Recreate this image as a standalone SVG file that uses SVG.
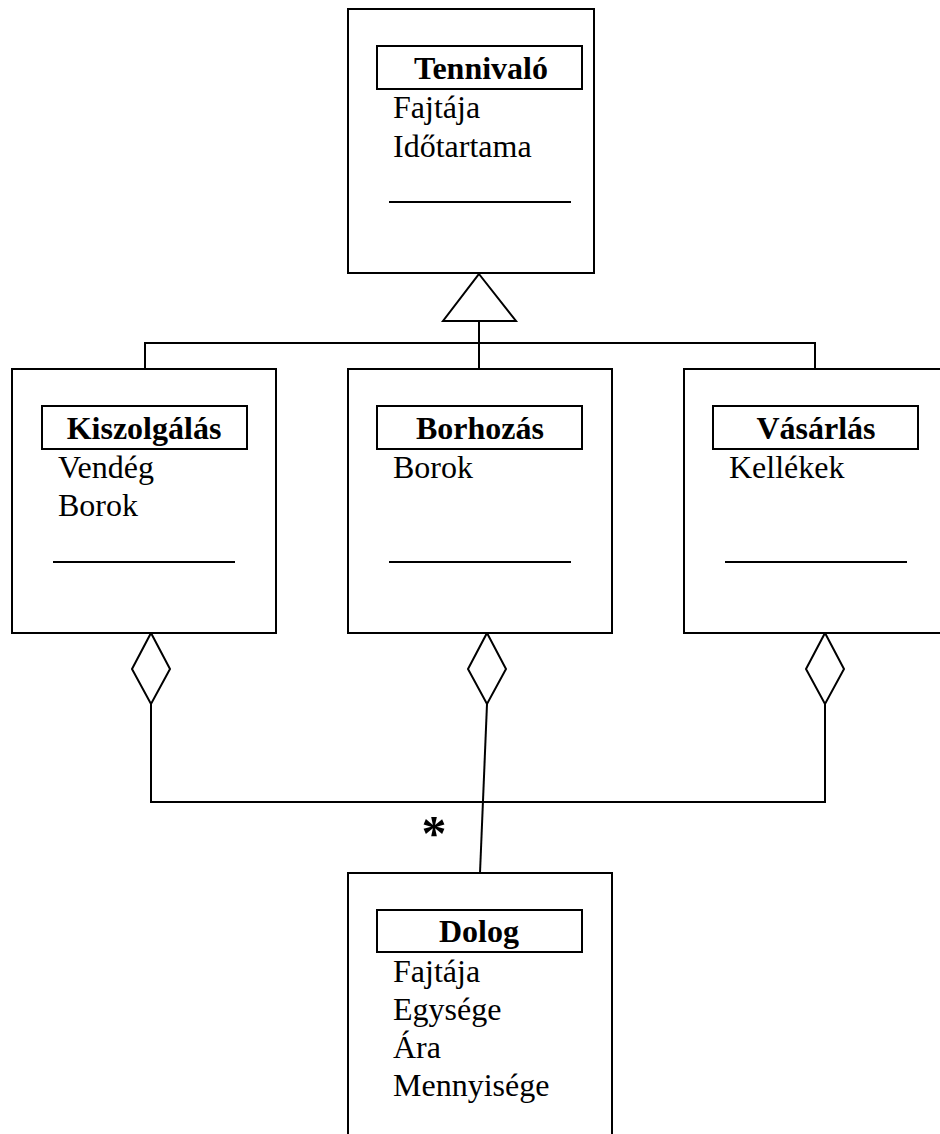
<svg xmlns="http://www.w3.org/2000/svg" width="940" height="1134" viewBox="0 0 940 1134">
  <style>
    .box { fill: #fff; stroke: #000; stroke-width: 2; }
    .hdr { fill: none; stroke: #000; stroke-width: 2; }
    .sep { stroke: #000; stroke-width: 2; }
    .line { fill: none; stroke: #000; stroke-width: 2; }
    .title { font-family: "Liberation Serif", "Times New Roman", serif; font-size: 32px; font-weight: bold; text-anchor: middle; fill: #000; }
    .attr { font-family: "Liberation Serif", "Times New Roman", serif; font-size: 32px; fill: #000; }
  </style>
  <rect width="940" height="1134" fill="#fff"/>

  <!-- connectors -->
  <g id="connectors">
    <!-- generalization: triangle and branch lines -->
    <polyline class="line" points="145,370 145,343 815,343 815,370"/>
    <line class="line" x1="479" y1="321" x2="479" y2="370"/>
    <polygon class="box" points="479,274 516,321 443,321"/>
    <!-- aggregations -->
    <polygon class="box" points="151,633 170,669 151,704 132,669"/>
    <polygon class="box" points="487,633 506,669 487,704 468,669"/>
    <polygon class="box" points="825,633 844,669 825,704 806,669"/>
    <polyline class="line" points="151,704 151,802 825,802 825,704"/>
    <line class="line" x1="487" y1="704" x2="480" y2="873"/>
    <text x="434" y="850" style="font-family: 'Liberation Serif', serif; font-size: 50px; font-weight: bold; text-anchor: middle;">*</text>
  </g>

  <g id="tennivalo">
    <rect class="box" x="348" y="9" width="246" height="264"/>
    <rect class="hdr" x="377" y="46" width="205" height="43"/>
    <text class="title" x="481" y="79">Tennivaló</text>
    <text class="attr" x="393" y="118">Fajtája</text>
    <text class="attr" x="393" y="157">Időtartama</text>
    <line class="sep" x1="389" y1="202" x2="571" y2="202"/>
  </g>

  <g id="kiszolgalas">
    <rect class="box" x="12" y="369" width="264" height="264"/>
    <rect class="hdr" x="42" y="406" width="205" height="43"/>
    <text class="title" x="144" y="439">Kiszolgálás</text>
    <text class="attr" x="58" y="478">Vendég</text>
    <text class="attr" x="58" y="516">Borok</text>
    <line class="sep" x1="53" y1="562" x2="235" y2="562"/>
  </g>

  <g id="borhozas">
    <rect class="box" x="348" y="369" width="264" height="264"/>
    <rect class="hdr" x="377" y="406" width="205" height="43"/>
    <text class="title" x="480" y="439">Borhozás</text>
    <text class="attr" x="393" y="478">Borok</text>
    <line class="sep" x1="389" y1="562" x2="571" y2="562"/>
  </g>

  <g id="vasarlas">
    <rect class="box" x="684" y="369" width="264" height="264"/>
    <rect class="hdr" x="713" y="406" width="205" height="43"/>
    <text class="title" x="816" y="439">Vásárlás</text>
    <text class="attr" x="729" y="478">Kellékek</text>
    <line class="sep" x1="725" y1="562" x2="907" y2="562"/>
  </g>

  <g id="dolog">
    <rect class="box" x="348" y="873" width="264" height="280"/>
    <rect class="hdr" x="377" y="910" width="205" height="42"/>
    <text class="title" x="479" y="942">Dolog</text>
    <text class="attr" x="393" y="982">Fajtája</text>
    <text class="attr" x="393" y="1020">Egysége</text>
    <text class="attr" x="393" y="1058">Ára</text>
    <text class="attr" x="393" y="1096">Mennyisége</text>
  </g>
</svg>
